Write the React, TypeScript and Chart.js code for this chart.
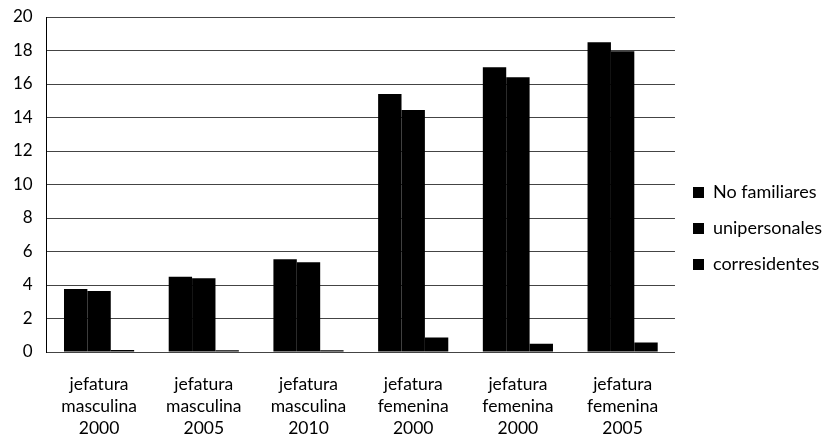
import React, { useEffect, useRef } from "react";
import { Chart, registerables } from "chart.js";

Chart.register(...registerables);

const categories: string[][] = [
  ["jefatura", "masculina", "2000"],
  ["jefatura", "masculina", "2005"],
  ["jefatura", "masculina", "2010"],
  ["jefatura", "femenina", "2000"],
  ["jefatura", "femenina", "2000"],
  ["jefatura", "femenina", "2005"],
];

const seriesNames = ["No familiares", "unipersonales", "corresidentes"];
const noFamiliares = [3.76, 4.5, 5.54, 15.4, 17.0, 18.5];
const unipersonales = [3.64, 4.4, 5.36, 14.45, 16.4, 17.95];
const corresidentes = [0.12, 0.1, 0.1, 0.87, 0.5, 0.57];

const yMin = 0;
const yMax = 20;
const yStep = 2;

export default function App() {
  const ref = useRef<HTMLCanvasElement | null>(null);

  useEffect(() => {
    document.body.style.margin = "0";
    const ctx = ref.current;
    if (!ctx) return;
    const font = "Lato";
    const chart = new Chart(ctx, {
      type: "bar",
      data: {
        labels: categories,
        datasets: [
          { label: seriesNames[0], data: noFamiliares, backgroundColor: "#000" },
          { label: seriesNames[1], data: unipersonales, backgroundColor: "#000" },
          { label: seriesNames[2], data: corresidentes, backgroundColor: "#000" },
        ],
      },
      options: {
        animation: false,
        responsive: false,
        maintainAspectRatio: false,
        layout: { padding: { top: -3, bottom: -24, left: -1, right: -4 } },
        datasets: {
          bar: { categoryPercentage: 0.67, barPercentage: 1.0 },
        },
        plugins: {
          tooltip: { enabled: false },
          legend: {
            position: "right",
            align: "center",
            labels: {
              boxWidth: 11,
              boxHeight: 11,
              padding: 18,
              color: "#000",
              font: { family: font, size: 18 },
            },
          },
        },
        scales: {
          x: {
            grid: { display: false, drawTicks: false },
            border: { display: true, color: "#444" },
            ticks: {
              color: "#000",
              padding: 21,
              maxRotation: 0,
              font: { family: font, size: 17.5, lineHeight: 1.257 },
            },
          },
          y: {
            min: yMin,
            max: yMax,
            grid: { color: "#444", lineWidth: 1, drawTicks: false },
            border: { display: true, color: "#000" },
            afterFit: (scale: any) => {
              scale.paddingTop = 17;
            },
            ticks: {
              stepSize: yStep,
              color: "#000",
              padding: 14,
              font: { family: font, size: 17 },
            },
          },
        },
      },
    });
    return () => chart.destroy();
  }, []);

  return (
    <div style={{ position: "absolute", left: 0, top: 0, width: 828, height: 436 }}>
      <canvas ref={ref} width={828} height={436} style={{ width: 828, height: 436 }} />
    </div>
  );
}
